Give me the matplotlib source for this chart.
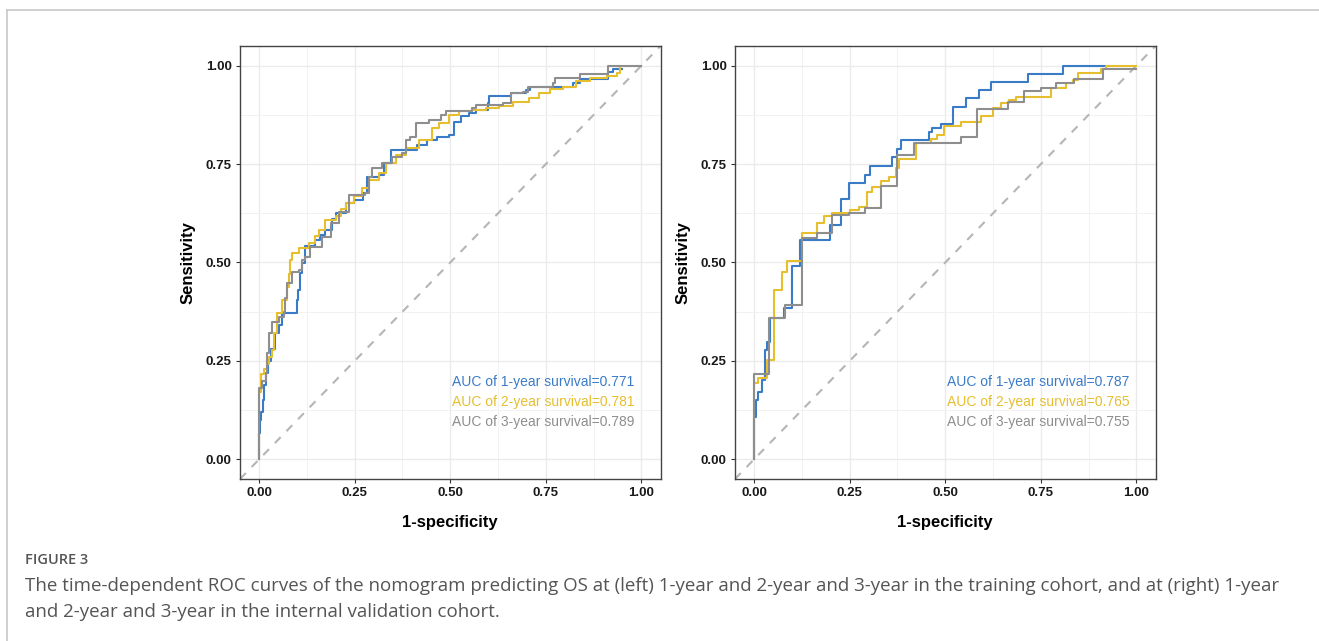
import numpy as np
import matplotlib
matplotlib.use("Agg")
import matplotlib.pyplot as plt
from matplotlib.lines import Line2D

# colours of the three survival times
col_1y = "#3A7BC8"
col_2y = "#E6BE2E"
col_3y = "#8E8E8E"

# ---- training cohort (left) : step points (fpr, tpr) ----
tr_1y_x = [0, 0, 0.003, 0.005, 0.009, 0.013, 0.017, 0.024, 0.031, 0.042, 0.051, 0.059, 0.099, 0.103, 0.108,
           0.112, 0.121, 0.147, 0.16, 0.173, 0.19, 0.2, 0.226, 0.248, 0.273, 0.282, 0.313, 0.326, 0.344, 0.414,
           0.44, 0.466, 0.497, 0.51, 0.528, 0.55, 0.567, 0.598, 0.602, 0.66, 0.699, 0.708, 0.821, 0.839, 0.913,
           0.926, 0.948]
tr_1y_y = [0, 0.066, 0.10, 0.12, 0.15, 0.19, 0.22, 0.25, 0.28, 0.32, 0.34, 0.371, 0.405, 0.43, 0.473,
           0.498, 0.541, 0.557, 0.57, 0.583, 0.61, 0.625, 0.651, 0.659, 0.676, 0.718, 0.723, 0.752, 0.786, 0.799,
           0.81, 0.82, 0.824, 0.858, 0.871, 0.88, 0.888, 0.905, 0.924, 0.93, 0.939, 0.947, 0.956, 0.966, 0.985,
           0.991, 0.991]

tr_2y_x = [0, 0, 0.005, 0.012, 0.02, 0.027, 0.034, 0.04, 0.047, 0.06, 0.073, 0.078, 0.082, 0.086, 0.104,
           0.13, 0.145, 0.156, 0.173, 0.2, 0.215, 0.226, 0.248, 0.27, 0.288, 0.313, 0.331, 0.357, 0.383, 0.418,
           0.453, 0.47, 0.497, 0.523, 0.558, 0.593, 0.628, 0.663, 0.707, 0.733, 0.76, 0.795, 0.83, 0.865, 0.909,
           0.935, 0.944]
tr_2y_y = [0, 0.17, 0.218, 0.23, 0.243, 0.26, 0.277, 0.32, 0.371, 0.405, 0.438, 0.47, 0.506, 0.523, 0.536,
           0.549, 0.567, 0.583, 0.608, 0.617, 0.635, 0.651, 0.668, 0.69, 0.71, 0.727, 0.752, 0.774, 0.79, 0.812,
           0.841, 0.854, 0.875, 0.884, 0.888, 0.892, 0.898, 0.909, 0.918, 0.93, 0.94, 0.947, 0.96, 0.968, 0.975,
           0.982, 0.998]

tr_3y_x = [0, 0, 0.008, 0.017, 0.02, 0.025, 0.034, 0.051, 0.064, 0.068, 0.073, 0.086, 0.104, 0.113, 0.121,
           0.134, 0.165, 0.187, 0.208, 0.234, 0.278, 0.287, 0.296, 0.322, 0.348, 0.374, 0.383, 0.396, 0.41,
           0.444, 0.475, 0.488, 0.532, 0.558, 0.567, 0.637, 0.66, 0.69, 0.703, 0.769, 0.773, 0.839, 0.913, 1.0]
tr_3y_y = [0, 0.18, 0.2, 0.22, 0.27, 0.32, 0.349, 0.362, 0.375, 0.41, 0.447, 0.477, 0.481, 0.506, 0.515,
           0.54, 0.566, 0.6, 0.629, 0.672, 0.676, 0.718, 0.74, 0.752, 0.769, 0.778, 0.812, 0.82, 0.854,
           0.863, 0.875, 0.885, 0.886, 0.892, 0.9, 0.905, 0.93, 0.934, 0.947, 0.956, 0.968, 0.98, 1.0, 1.0]

# ---- internal validation cohort (right) ----
va_1y_x = [0, 0, 0.005, 0.011, 0.02, 0.029, 0.033, 0.042, 0.077, 0.099, 0.121, 0.199, 0.226, 0.248, 0.291,
           0.304, 0.361, 0.374, 0.383, 0.458, 0.466, 0.488, 0.519, 0.554, 0.589, 0.619, 0.716, 0.808, 0.921]
va_1y_y = [0, 0.108, 0.151, 0.172, 0.202, 0.278, 0.299, 0.358, 0.384, 0.49, 0.558, 0.596, 0.661, 0.703, 0.723,
           0.746, 0.768, 0.788, 0.812, 0.831, 0.842, 0.853, 0.895, 0.918, 0.939, 0.958, 0.98, 1.0, 1.0]

va_2y_x = [0, 0, 0.011, 0.033, 0.051, 0.073, 0.086, 0.125, 0.164, 0.182, 0.204, 0.252, 0.274, 0.296, 0.309,
           0.331, 0.353, 0.37, 0.379, 0.423, 0.462, 0.479, 0.497, 0.541, 0.593, 0.624, 0.646, 0.668, 0.685,
           0.777, 0.816, 0.834, 0.847, 0.908, 0.921, 1.0]
va_2y_y = [0, 0.193, 0.206, 0.252, 0.43, 0.477, 0.503, 0.575, 0.6, 0.617, 0.625, 0.634, 0.642, 0.68, 0.693,
           0.706, 0.717, 0.74, 0.763, 0.803, 0.814, 0.825, 0.847, 0.858, 0.873, 0.892, 0.905, 0.912, 0.92,
           0.943, 0.956, 0.964, 0.981, 0.992, 1.0, 1.0]

va_3y_x = [0, 0, 0.038, 0.081, 0.125, 0.164, 0.204, 0.248, 0.291, 0.331, 0.374, 0.418, 0.541, 0.584, 0.663,
           0.707, 0.751, 0.79, 0.838, 0.913, 1.0]
va_3y_y = [0, 0.217, 0.358, 0.392, 0.562, 0.575, 0.621, 0.627, 0.638, 0.695, 0.774, 0.803, 0.82, 0.89, 0.909,
           0.935, 0.943, 0.956, 0.966, 0.992, 0.992]

tr_auc = ["0.771", "0.781", "0.789"]
va_auc = ["0.787", "0.765", "0.755"]
ticks = [0, 0.25, 0.5, 0.75, 1.0]
tick_labels = ["0.00", "0.25", "0.50", "0.75", "1.00"]

caption_head = "FIGURE 3"
caption_1 = ("The time-dependent ROC curves of the nomogram predicting OS at (left) 1-year and 2-year and "
             "3-year in the training cohort, and at (right) 1-year")
caption_2 = "and 2-year and 3-year in the internal validation cohort."

plt.rcParams['font.family'] = ['Liberation Sans', 'DejaVu Sans']

fig = plt.figure(figsize=(13.19, 6.41), dpi=100)

def roc_panel(ax, curves, aucs):
    ax.set_xlim(-0.05, 1.05)
    ax.set_ylim(-0.05, 1.05)
    ax.set_xticks(ticks)
    ax.set_xticklabels(tick_labels)
    ax.set_yticks(ticks)
    ax.set_yticklabels(tick_labels)
    ax.set_xticks([0.125, 0.375, 0.625, 0.875], minor=True)
    ax.set_yticks([0.125, 0.375, 0.625, 0.875], minor=True)
    ax.grid(True, which='major', color='#EBEBEB', lw=1.0)
    ax.grid(True, which='minor', color='#F2F2F2', lw=0.7)
    ax.set_axisbelow(True)
    ax.tick_params(which='minor', length=0)
    ax.tick_params(which='major', length=3, width=0.8, color='#333333', labelsize=9.5, pad=3,
                   labelcolor='#1a1a1a')
    for lbl in ax.get_xticklabels() + ax.get_yticklabels():
        lbl.set_fontweight('bold')
    for s in ax.spines.values():
        s.set_color('#444444')
        s.set_linewidth(1.0)
    ax.axline((0, 0), (1, 1), color='#B5B5B5', lw=1.5, ls=(0, (4, 4)), zorder=1)
    for (xs, ys), c in zip(curves, [col_1y, col_2y, col_3y]):
        ax.plot(xs, ys, drawstyle='steps-post', color=c, lw=1.5, zorder=3)
    for i, (a, c) in enumerate(zip(aucs, [col_1y, col_2y, col_3y])):
        ax.text(0.505, 0.197 - i * 0.051, "AUC of %d-year survival=%s" % (i + 1, a),
                color=c, fontsize=10, va='center', ha='left')
    ax.set_xlabel("1-specificity", fontsize=12, fontweight='bold', labelpad=11)
    ax.set_ylabel("Sensitivity", fontsize=12, fontweight='bold', labelpad=7)

ax1 = fig.add_axes([240 / 1319, 1 - 479 / 641, 420.5 / 1319, 433 / 641])
roc_panel(ax1, [(tr_1y_x, tr_1y_y), (tr_2y_x, tr_2y_y), (tr_3y_x, tr_3y_y)], tr_auc)
ax2 = fig.add_axes([735 / 1319, 1 - 479 / 641, 420.5 / 1319, 433 / 641])
roc_panel(ax2, [(va_1y_x, va_1y_y), (va_2y_x, va_2y_y), (va_3y_x, va_3y_y)], va_auc)

# outer frame of the figure box
fig.add_artist(Line2D([6.7 / 1319, 1], [1 - 9.5 / 641] * 2, color='#C8C8C8', lw=1.2))
fig.add_artist(Line2D([6.7 / 1319] * 2, [0, 1 - 9.5 / 641], color='#C8C8C8', lw=1.2))

cap_font = ['Open Sans', 'DejaVu Sans']
fig.text(25 / 1319, 1 - 564 / 641, caption_head, fontsize=10.5, color='#555555', family=cap_font,
         fontweight='semibold', va='baseline')
fig.text(25 / 1319, 1 - 591 / 641, caption_1, fontsize=13.5, color='#555555', family=cap_font, va='baseline')
fig.text(25 / 1319, 1 - 617 / 641, caption_2, fontsize=13.5, color='#555555', family=cap_font, va='baseline')

fig.savefig("out.png", dpi=100)
